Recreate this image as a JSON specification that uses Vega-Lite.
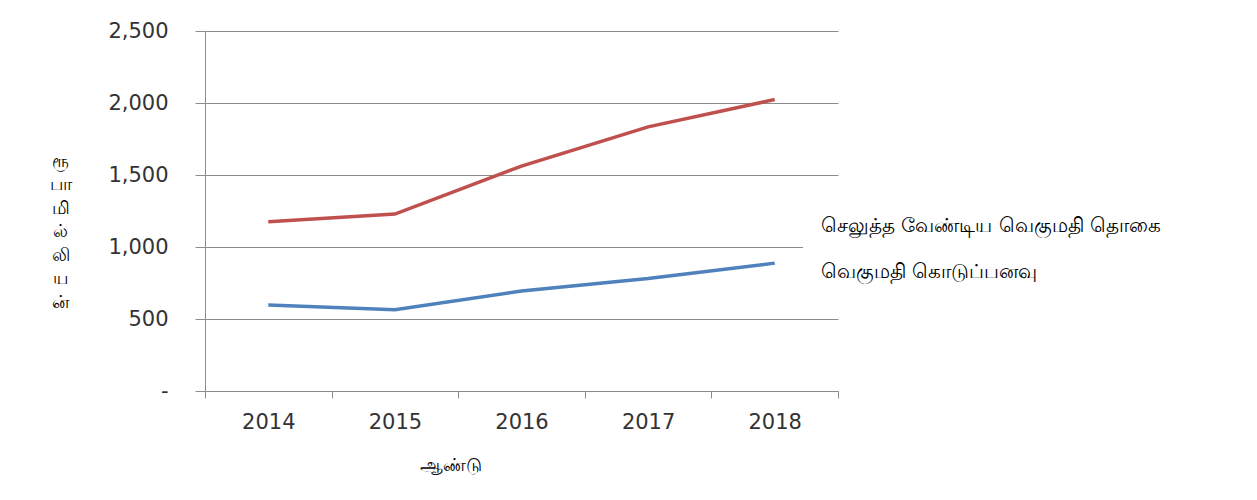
{
  "$schema": "https://vega.github.io/schema/vega-lite/v6.json",
  "width": 633,
  "height": 360,
  "autosize": {"type": "none"},
  "padding": {"left": 205, "top": 31, "right": 419, "bottom": 109},
  "background": "white",
  "config": {
    "view": {"stroke": null},
    "font": "DejaVu Sans"
  },
  "data": {
    "values": [
      {"year": "2014", "series": "செலுத்த வேண்டிய வெகுமதி தொகை", "value": 1176},
      {"year": "2015", "series": "செலுத்த வேண்டிய வெகுமதி தொகை", "value": 1229},
      {"year": "2016", "series": "செலுத்த வேண்டிய வெகுமதி தொகை", "value": 1562},
      {"year": "2017", "series": "செலுத்த வேண்டிய வெகுமதி தொகை", "value": 1834},
      {"year": "2018", "series": "செலுத்த வேண்டிய வெகுமதி தொகை", "value": 2024},
      {"year": "2014", "series": "வெகுமதி கொடுப்பனவு", "value": 597},
      {"year": "2015", "series": "வெகுமதி கொடுப்பனவு", "value": 565},
      {"year": "2016", "series": "வெகுமதி கொடுப்பனவு", "value": 694},
      {"year": "2017", "series": "வெகுமதி கொடுப்பனவு", "value": 781},
      {"year": "2018", "series": "வெகுமதி கொடுப்பனவு", "value": 888}
    ]
  },
  "mark": {"type": "line", "strokeWidth": 3.5},
  "encoding": {
    "x": {
      "field": "year",
      "type": "ordinal",
      "bandPosition": 0.5,
      "scale": {"type": "band", "paddingInner": 0, "paddingOuter": 0},
      "axis": {
        "title": "ஆண்டு",
        "titleFontSize": 18,
        "titleFontWeight": "normal",
        "titleColor": "black",
        "titleX": 245,
        "titleY": 74,
        "titleAlign": "center",
        "titleBaseline": "middle",
        "labelAngle": 0,
        "labelFontSize": 21,
        "labelColor": "#333333",
        "labelPadding": 13,
        "tickBand": "extent",
        "tickSize": 7,
        "tickColor": "#8c8c8c",
        "domainColor": "#8c8c8c",
        "grid": false
      }
    },
    "y": {
      "field": "value",
      "type": "quantitative",
      "scale": {"domain": [0, 2500], "nice": false},
      "axis": {
        "values": [0, 500, 1000, 1500, 2000, 2500],
        "labelExpr": "datum.value === 0 ? '-' : format(datum.value, ',')",
        "labelFontSize": 21,
        "labelColor": "#333333",
        "labelPadding": 27,
        "tickSize": 10,
        "tickColor": "#8c8c8c",
        "domainColor": "#8c8c8c",
        "grid": true,
        "gridColor": "#8c8c8c",
        "gridOpacity": 1,
        "title": ["ரூ", "பா", "மி", "ல்", "லி", "ய", "ன்"],
        "titleAngle": 0,
        "titleFontSize": 18,
        "titleFontWeight": "normal",
        "titleColor": "black",
        "titleX": -145,
        "titleY": 121,
        "titleAlign": "center",
        "titleBaseline": "top",
        "titleLineHeight": 23.5
      }
    },
    "color": {
      "field": "series",
      "type": "nominal",
      "scale": {
        "domain": ["செலுத்த வேண்டிய வெகுமதி தொகை", "வெகுமதி கொடுப்பனவு"],
        "range": ["#C0504D", "#4F81BD"]
      },
      "legend": {
        "title": null,
        "orient": "none",
        "legendX": 598,
        "legendY": 169,
        "direction": "vertical",
        "fillColor": "white",
        "padding": 16,
        "symbolOpacity": 0,
        "symbolSize": 1,
        "symbolStrokeWidth": 0,
        "labelOffset": -18,
        "labelFontSize": 20,
        "labelColor": "black",
        "labelLimit": 0,
        "rowPadding": 26
      }
    }
  }
}
